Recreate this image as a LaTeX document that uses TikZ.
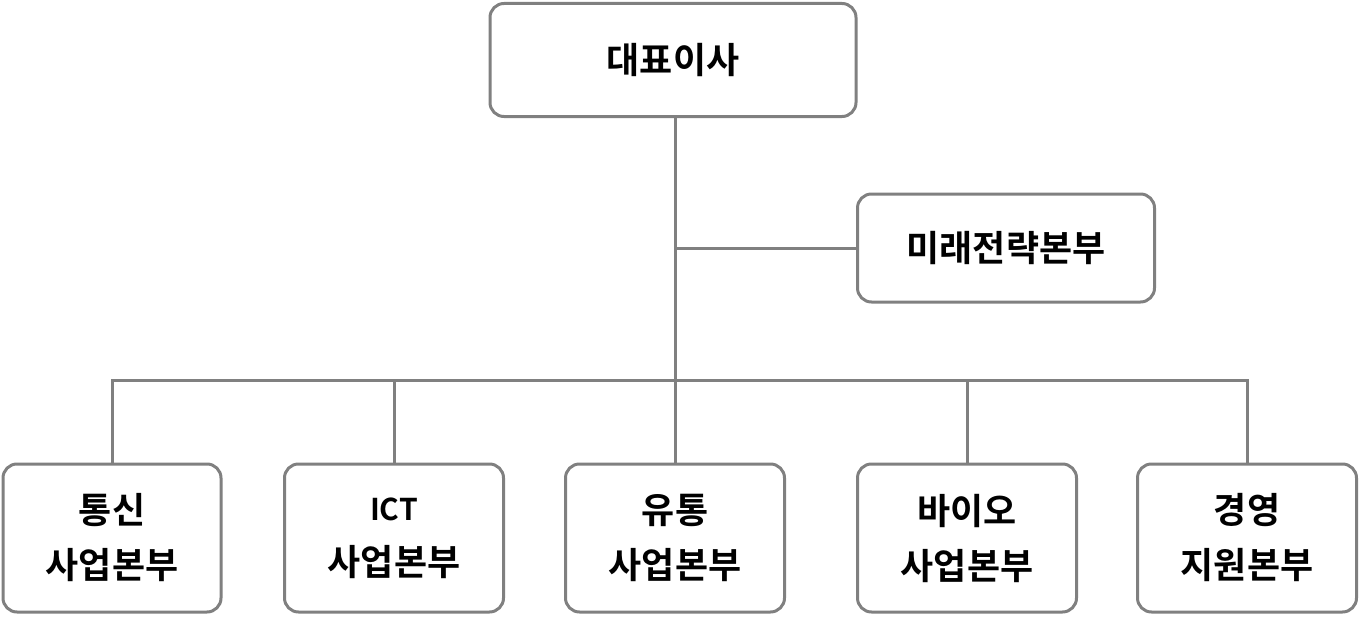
\documentclass[tikz,border=0pt]{standalone}
\usepackage{fontspec}
\setmainfont{Noto Sans CJK KR}[BoldFont={* Bold}]
\usetikzlibrary{positioning}
\tikzset{
  unit/.style={draw=black!50, line width=3pt, rounded corners=14pt, align=center,
    font=\fontsize{36}{55}\selectfont\bfseries, inner sep=0pt},
  link/.style={draw=black!50, line width=3pt}
}
\begin{document}
\begin{tikzpicture}[x=1pt, y=-1pt]
        \useasboundingbox (0,0) rectangle (1361,618);
        \node[unit, minimum width=366pt, minimum height=113pt] (ceo) at (673,60) {대표이사};
        \node[unit, minimum width=297pt, minimum height=108pt] (strat) at (1006,248) {미래전략본부};
        \node[unit, minimum width=218pt, minimum height=148pt] (tel) at (112,538) {통신\\사업본부};
        \node[unit, minimum width=219pt, minimum height=148pt] (ict) at (394,538) {{\fontsize{30}{36}\selectfont ICT}\\사업본부};
        \node[unit, minimum width=219pt, minimum height=148pt] (dist) at (675,538) {유통\\사업본부};
        \node[unit, minimum width=219pt, minimum height=148pt] (bio) at (967,538) {바이오\\사업본부};
        \node[unit, minimum width=219pt, minimum height=148pt] (mgmt) at (1247,538) {경영\\지원본부};

        \coordinate (hub) at (675,380);
        \coordinate (mid) at (675,248);
        \draw[link] (ceo.south -| hub) -- (hub);
        \draw[link] (mid) -- (strat.west);
        \draw[link] (tel.north) |- (hub) -| (mgmt.north);
        \draw[link] (ict.north) -- (ict.north |- hub);
        \draw[link] (dist.north) -- (dist.north |- hub);
        \draw[link] (bio.north) -- (bio.north |- hub);
\end{tikzpicture}
\end{document}
